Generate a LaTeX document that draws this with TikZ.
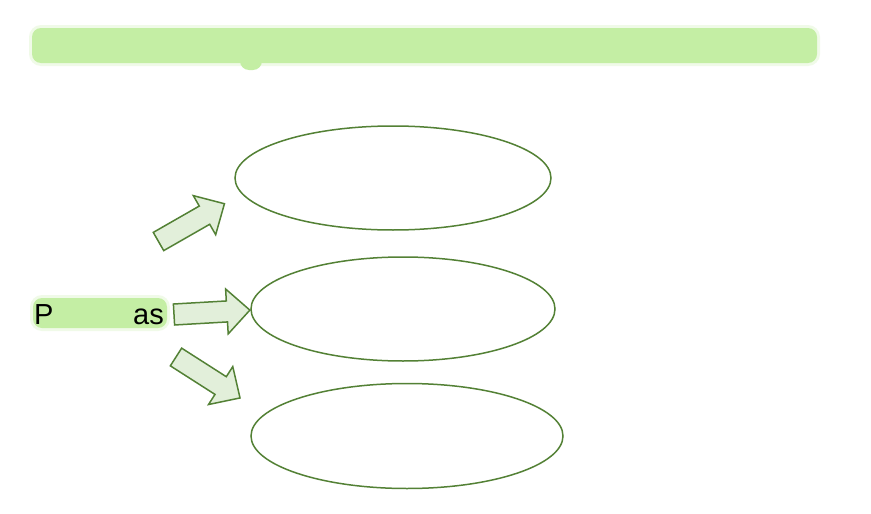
\documentclass[tikz,border=0pt]{standalone}
\usepackage{fontspec}
\setmainfont{Liberation Sans}
\usetikzlibrary{shapes.geometric}
\definecolor{lineGreen}{HTML}{538135}
\definecolor{fillGreen}{HTML}{E2EFDA}
\definecolor{blurGreen}{HTML}{C4EEA4}
\tikzset{
  oval/.style={ellipse, draw=lineGreen, line width=1.5pt, fill=white, inner sep=0pt},
  blockarrow/.style={draw=lineGreen, fill=fillGreen, line width=1.5pt, line join=miter},
  blob/.style={fill=blurGreen, rounded corners=9pt},
  softblob/.style={fill=blurGreen, opacity=0.25, rounded corners=12pt},
  lbl/.style={inner sep=0pt, font=\fontsize{29}{35}\selectfont, text=black}
}
\newcommand{\myblockarrow}[2]{%
  \begin{scope}[shift={#1}, rotate=#2]
    \draw[blockarrow] (0,-10.5) -- (53,-10.5) -- (53,-22.5) -- (76,0) -- (53,22.5) -- (53,10.5) -- (0,10.5) -- cycle;
  \end{scope}}
\begin{document}
\begin{tikzpicture}[x=1pt,y=-1pt]
  \useasboundingbox (0,0) rectangle (871,514);
  \fill[white] (0,0) rectangle (871,514);
  % blurred title
  \fill[softblob] (29,25) rectangle (820,66);
  \fill[blob] (32,28) rectangle (817,63);
  \fill[blob] (240,50) rectangle (262,70);
  % blurred label
  \fill[softblob] (30,295) rectangle (170,331);
  \fill[blob] (33,298) rectangle (167,328);
  \node[lbl, anchor=base west] (lblP) at (34,324) {P};
  \node[lbl, anchor=base east] (lblAs) at (164,324) {as};
  % ovals
  \node[oval, minimum width=316pt, minimum height=104pt] (e1) at (393,178) {};
  \node[oval, minimum width=304pt, minimum height=104pt] (e2) at (403,309) {};
  \node[oval, minimum width=312pt, minimum height=105pt] (e3) at (407,436) {};
  % block arrows
  \myblockarrow{(158.5,241.5)}{29.8}
  \myblockarrow{(174,314.5)}{3.3}
  \myblockarrow{(176,357)}{-32.6}
\end{tikzpicture}
\end{document}
